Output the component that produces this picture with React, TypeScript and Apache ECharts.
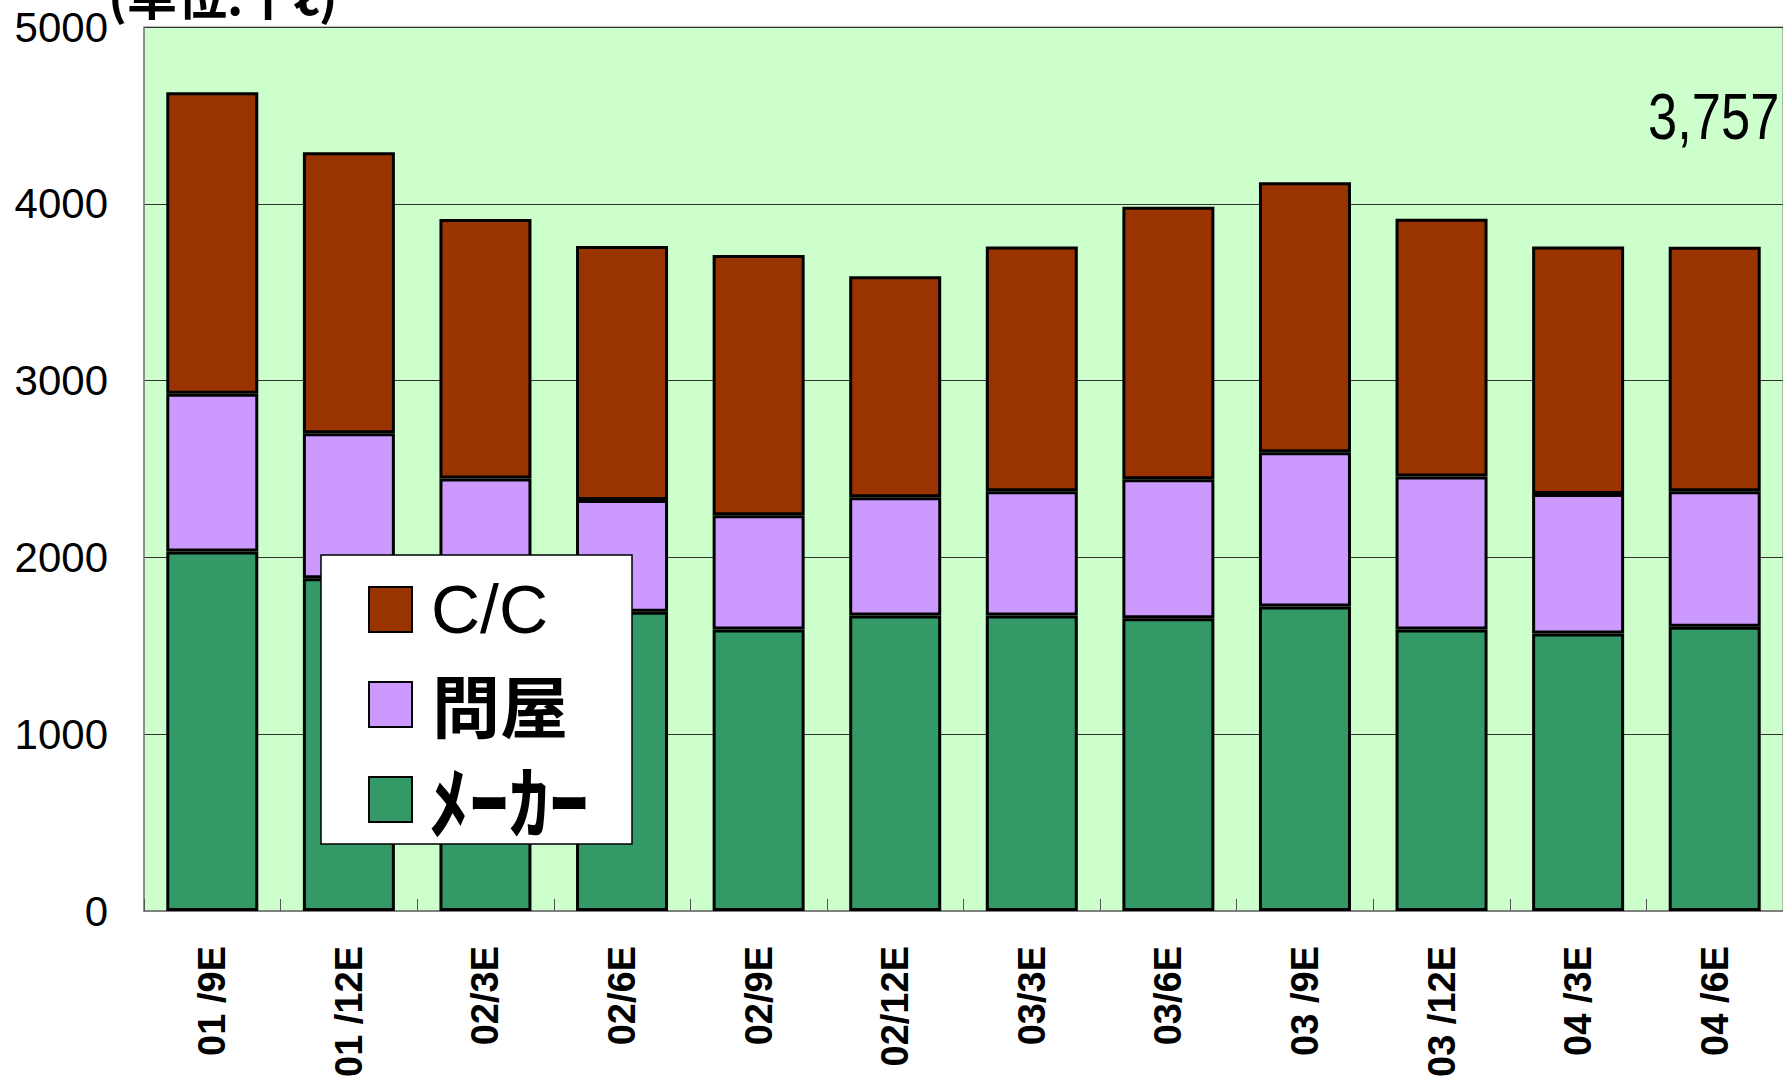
import React, { useEffect, useRef } from 'react';
import * as echarts from 'echarts';

const categories = ['01 /9E', '01 /12E', '02/3E', '02/6E', '02/9E', '02/12E', '03/3E', '03/6E', '03 /9E', '03 /12E', '04 /3E', '04 /6E'];
const makerData = [2034, 1882, 1780, 1692, 1592, 1671, 1671, 1656, 1723, 1592, 1570, 1608];
const tonyaData = [891, 820, 666, 633, 646, 669, 703, 786, 872, 866, 789, 766];
const ccData = [1706, 1589, 1468, 1437, 1472, 1250, 1385, 1541, 1527, 1458, 1400, 1383];
const yTicks = { min: 0, max: 5000, interval: 1000 };
const unitTitle = '(単位:千ℓ)';
const latestLabel = '3,757';

const seriesNames = { cc: 'C/C', tonya: '問屋', maker: 'ﾒｰｶｰ' };
const colors = { cc: '#993300', tonya: '#CC99FF', maker: '#339966' };
const legendOrder = ['cc', 'tonya', 'maker'] as const;

export default function App() {
  const ref = useRef<HTMLDivElement>(null);
  useEffect(() => {
    if (!ref.current) return;
    const chart = echarts.init(ref.current, undefined, { renderer: 'svg' });
    const barStyle = (c: string) => ({ color: c, borderColor: '#000', borderWidth: 3 });

    const legendFonts: Record<string, any> = {
      cc: { fontSize: 68, fontFamily: 'Liberation Sans', fontWeight: 'normal', dx: 431, dy: 609 },
      tonya: { fontSize: 68, fontFamily: 'Noto Sans CJK JP', fontWeight: 'bold', dx: 432, dy: 703 },
      maker: { fontSize: 80, fontFamily: 'Noto Sans CJK JP', fontWeight: 'bold', dx: 429, dy: 797 },
    };
    const legendSquaresTop = [587, 682, 777];
    const legendGraphics: any[] = [];
    legendOrder.forEach((key, i) => {
      legendGraphics.push({
        type: 'rect',
        z: 60,
        shape: { x: 369, y: legendSquaresTop[i], width: 43, height: 45 },
        style: { fill: colors[key], stroke: '#000', lineWidth: 2 },
      });
      const f = legendFonts[key];
      legendGraphics.push({
        type: 'text',
        z: 60,
        x: f.dx,
        y: f.dy,
        style: {
          text: seriesNames[key],
          fontSize: f.fontSize,
          lineHeight: 60,
          fontFamily: f.fontFamily,
          fontWeight: f.fontWeight,
          fill: '#000',
          verticalAlign: 'middle',
          align: 'left',
        },
      });
    });

    chart.setOption({
      animation: false,
      backgroundColor: '#ffffff',
      grid: {
        left: 144,
        top: 27,
        width: 1640,
        height: 891,
        show: true,
        backgroundColor: '#CCFFCC',
        borderColor: '#808080',
        borderWidth: 1,
      },
      xAxis: {
        type: 'category',
        data: categories,
        axisLine: { lineStyle: { color: '#808080', width: 2 } },
        axisTick: { show: true, inside: true, length: 12, lineStyle: { color: '#555' } },
        axisLabel: {
          rotate: 90,
          margin: 35,
          fontSize: 38,
          fontWeight: 'bold',
          color: '#000',
          fontFamily: 'Liberation Sans',
          interval: 0,
        },
      },
      yAxis: {
        type: 'value',
        min: yTicks.min,
        max: yTicks.max,
        interval: yTicks.interval,
        axisLine: { show: true, lineStyle: { color: '#808080', width: 1.5 } },
        axisTick: { show: false },
        splitLine: { lineStyle: { color: '#333', width: 1 } },
        axisLabel: {
          fontSize: 42,
          color: '#000',
          margin: 36,
          fontFamily: 'Liberation Sans',
          formatter: (v: number) => String(v),
        },
      },
      graphic: [
        {
          type: 'rect',
          z: 50,
          shape: { x: 321, y: 555, width: 311, height: 289 },
          style: { fill: '#ffffff', stroke: '#000', lineWidth: 1.5 },
        },
        ...legendGraphics,
        {
          type: 'text',
          z: 50,
          x: 108,
          y: 18,
          style: {
            text: unitTitle,
            fontSize: 50,
            fontWeight: 'bold',
            fontFamily: 'Noto Sans CJK JP',
            fill: '#000',
            verticalAlign: 'bottom',
          },
        },
        {
          type: 'text',
          z: 50,
          x: 1648,
          y: 117,
          scaleX: 0.82,
          style: {
            text: latestLabel,
            fontSize: 64,
            fontFamily: 'Liberation Sans',
            fill: '#000',
            verticalAlign: 'middle',
          },
        },
      ],
      series: [
        { name: seriesNames.maker, type: 'bar', stack: 'total', barWidth: 92, data: makerData, itemStyle: barStyle(colors.maker) },
        { name: seriesNames.tonya, type: 'bar', stack: 'total', barWidth: 92, data: tonyaData, itemStyle: barStyle(colors.tonya) },
        { name: seriesNames.cc, type: 'bar', stack: 'total', barWidth: 92, data: ccData, itemStyle: barStyle(colors.cc) },
      ],
    });
    return () => chart.dispose();
  }, []);
  return <div ref={ref} style={{ position: 'absolute', left: 0, top: 0, width: 1783, height: 1080 }} />;
}
